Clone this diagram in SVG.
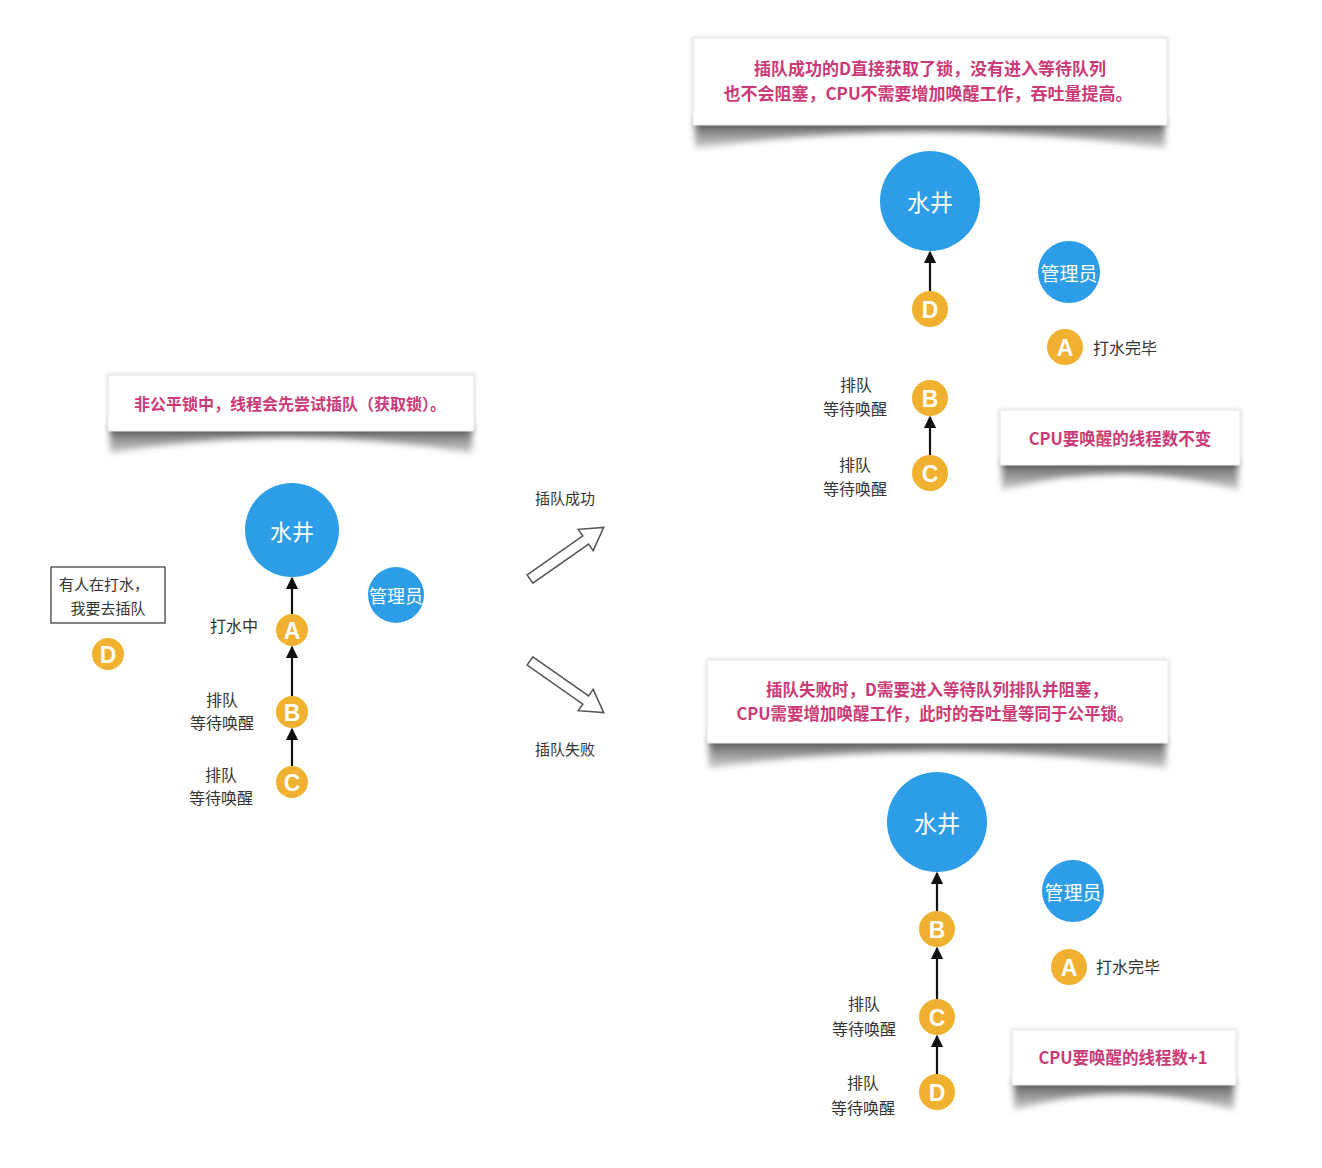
<svg xmlns="http://www.w3.org/2000/svg" width="1322" height="1168" viewBox="0 0 1322 1168">
<defs>
<style>
.note{font-family:"Noto Sans CJK SC",sans-serif;font-weight:bold;fill:#cc3a76;text-anchor:middle;dominant-baseline:central}
.lbl{font-family:"Noto Sans CJK SC",sans-serif;fill:#333;text-anchor:middle;dominant-baseline:central}
.well{fill:#2d9de8}
.wt{font-family:"Noto Sans CJK SC",sans-serif;fill:#fff;text-anchor:middle;dominant-baseline:central}
.th{fill:#f0b131}
.tt{font-family:"Liberation Sans",Arial,sans-serif;font-weight:bold;fill:#fff;text-anchor:middle;dominant-baseline:central;font-size:23px}
.ln{stroke:#111;stroke-width:2.2;fill:none}
.box{fill:#fff;stroke:#e6e6e6;stroke-width:1}
.shd{fill:url(#sg)}
.hollow{fill:#fff;stroke:#555;stroke-width:1.5;stroke-linejoin:miter}
</style>
<linearGradient id="sg" x1="0" y1="0" x2="0" y2="1"><stop offset="0" stop-color="#333" stop-opacity=".9"/><stop offset="1" stop-color="#999" stop-opacity=".5"/></linearGradient>
<filter id="blur" x="-10%" y="-50%" width="120%" height="200%"><feGaussianBlur stdDeviation="3"/></filter>
<filter id="edge" x="-5%" y="-20%" width="110%" height="140%"><feDropShadow dx="0" dy="0" stdDeviation="2" flood-color="#000" flood-opacity=".18"/></filter>
<marker id="ah" viewBox="0 0 10 10" refX="9" refY="5" markerWidth="5.5" markerHeight="5.5" orient="auto-start-reverse"><path d="M0,0 L10,5 L0,10 Z" fill="#111"/></marker>
</defs>
<rect width="1322" height="1168" fill="#fff"/>

<!-- Left panel -->
<g id="note-left">
<path class="shd" filter="url(#blur)" d="M110,426 L472,426 L472,453 Q291,422 110,453 Z"/>
<rect class="box" filter="url(#edge)" x="108" y="375" width="366" height="56"/>
<text class="note" x="290" y="403" font-size="16">非公平锁中，线程会先尝试插队（获取锁）。</text>
</g>
<g id="well-left"><circle class="well" cx="292" cy="530" r="47"/><text class="wt" x="292" y="530" font-size="22">水井</text></g>
<g id="admin-left"><circle class="well" cx="396" cy="595" r="28"/><text class="wt" x="396" y="595" font-size="18">管理员</text></g>
<g id="A-left"><circle class="th" cx="292" cy="630" r="16"/><text class="tt" x="292" y="631">A</text><text class="lbl" x="234" y="625" font-size="16">打水中</text></g>
<g id="B-left"><circle class="th" cx="292" cy="712" r="16"/><text class="tt" x="292" y="713">B</text><text class="lbl" x="222" y="699" font-size="16">排队</text><text class="lbl" x="222" y="722" font-size="16">等待唤醒</text></g>
<g id="C-left"><circle class="th" cx="292" cy="782" r="16"/><text class="tt" x="292" y="783">C</text><text class="lbl" x="221" y="774" font-size="16">排队</text><text class="lbl" x="221" y="797" font-size="16">等待唤醒</text></g>
<g id="box-left"><rect x="51" y="567" width="114" height="56" fill="#fff" stroke="#333" stroke-width="1.2"/><text class="lbl" x="104" y="583" font-size="15">有人在打水，</text><text class="lbl" x="108" y="607" font-size="15">我要去插队</text></g>
<g id="D-left"><circle class="th" cx="108" cy="654" r="16"/><text class="tt" x="108" y="655">D</text></g>

<!-- Middle -->
<g id="label-success"><text class="lbl" x="565" y="497" font-size="15">插队成功</text></g>
<g id="label-fail"><text class="lbl" x="565" y="748" font-size="15">插队失败</text></g>

<!-- Top right -->
<g id="note-tr">
<path class="shd" filter="url(#blur)" d="M695,120 L1165,120 L1165,148 Q930,116 695,148 Z"/>
<rect class="box" filter="url(#edge)" x="693" y="38" width="474" height="87"/>
<text class="note" x="930" y="67" font-size="17">插队成功的D直接获取了锁，没有进入等待队列</text>
<text class="note" x="928" y="92" font-size="17">也不会阻塞，CPU不需要增加唤醒工作，吞吐量提高。</text>
</g>
<g id="well-tr"><circle class="well" cx="930" cy="201" r="50"/><text class="wt" x="930" y="201" font-size="23">水井</text></g>
<g id="admin-tr"><circle class="well" cx="1069" cy="272" r="31"/><text class="wt" x="1069" y="272" font-size="19">管理员</text></g>
<g id="D-tr"><circle class="th" cx="930" cy="309" r="18"/><text class="tt" x="930" y="310" font-size="25">D</text></g>
<g id="A-tr"><circle class="th" cx="1065" cy="347" r="18"/><text class="tt" x="1065" y="348" font-size="25">A</text><text class="lbl" x="1125" y="347" font-size="16">打水完毕</text></g>
<g id="B-tr"><circle class="th" cx="930" cy="398" r="18"/><text class="tt" x="930" y="399" font-size="25">B</text><text class="lbl" x="856" y="384" font-size="16">排队</text><text class="lbl" x="855" y="408" font-size="16">等待唤醒</text></g>
<g id="C-tr"><circle class="th" cx="930" cy="473" r="18"/><text class="tt" x="930" y="474" font-size="25">C</text><text class="lbl" x="855" y="464" font-size="16">排队</text><text class="lbl" x="855" y="488" font-size="16">等待唤醒</text></g>
<g id="note-tr2">
<path class="shd" filter="url(#blur)" d="M1002,460 L1238,460 L1238,490 Q1120,458 1002,490 Z"/>
<rect class="box" filter="url(#edge)" x="1000" y="410" width="240" height="55"/>
<text class="note" x="1120" y="438" font-size="16.5">CPU要唤醒的线程数不变</text>
</g>

<!-- Bottom right -->
<g id="note-br">
<path class="shd" filter="url(#blur)" d="M709,738 L1166,738 L1166,768 Q937,735 709,768 Z"/>
<rect class="box" filter="url(#edge)" x="707" y="660" width="461" height="83"/>
<text class="note" x="937" y="689" font-size="16.5">插队失败时，D需要进入等待队列排队并阻塞，</text>
<text class="note" x="935" y="713" font-size="16.5">CPU需要增加唤醒工作，此时的吞吐量等同于公平锁。</text>
</g>
<g id="well-br"><circle class="well" cx="937" cy="822" r="50"/><text class="wt" x="937" y="822" font-size="23">水井</text></g>
<g id="admin-br"><circle class="well" cx="1073" cy="891" r="31"/><text class="wt" x="1073" y="891" font-size="19">管理员</text></g>
<g id="B-br"><circle class="th" cx="937" cy="929" r="18"/><text class="tt" x="937" y="930" font-size="25">B</text></g>
<g id="A-br"><circle class="th" cx="1069" cy="967" r="18"/><text class="tt" x="1069" y="968" font-size="25">A</text><text class="lbl" x="1128" y="966" font-size="16">打水完毕</text></g>
<g id="C-br"><circle class="th" cx="937" cy="1017" r="18"/><text class="tt" x="937" y="1018" font-size="25">C</text><text class="lbl" x="864" y="1003" font-size="16">排队</text><text class="lbl" x="864" y="1028" font-size="16">等待唤醒</text></g>
<g id="D-br"><circle class="th" cx="937" cy="1092" r="18"/><text class="tt" x="937" y="1093" font-size="25">D</text><text class="lbl" x="863" y="1082" font-size="16">排队</text><text class="lbl" x="863" y="1107" font-size="16">等待唤醒</text></g>
<g id="note-br2">
<path class="shd" filter="url(#blur)" d="M1014,1080 L1234,1080 L1234,1110 Q1124,1078 1014,1110 Z"/>
<rect class="box" filter="url(#edge)" x="1012" y="1030" width="224" height="55"/>
<text class="note" x="1123" y="1057" font-size="16.5">CPU要唤醒的线程数+1</text>
</g>

<!-- Connectors -->
<g id="connectors">
<line class="ln" marker-end="url(#ah)" x1="292" y1="614" x2="292" y2="578"/>
<line class="ln" marker-end="url(#ah)" x1="292" y1="696" x2="292" y2="647"/>
<line class="ln" marker-end="url(#ah)" x1="292" y1="766" x2="292" y2="729"/>
<path class="hollow" transform="translate(530,579) rotate(-35)" d="M0,-5 L68,-5 L68,-13 L90,0 L68,13 L68,5 L0,5 Z"/>
<path class="hollow" transform="translate(530,661) rotate(35)" d="M0,-5 L68,-5 L68,-13 L90,0 L68,13 L68,5 L0,5 Z"/>
<line class="ln" marker-end="url(#ah)" x1="930" y1="291" x2="930" y2="252"/>
<line class="ln" marker-end="url(#ah)" x1="930" y1="455" x2="930" y2="417"/>
<line class="ln" marker-end="url(#ah)" x1="937" y1="911" x2="937" y2="873"/>
<line class="ln" marker-end="url(#ah)" x1="937" y1="999" x2="937" y2="948"/>
<line class="ln" marker-end="url(#ah)" x1="937" y1="1074" x2="937" y2="1036"/>
</g>
</svg>
